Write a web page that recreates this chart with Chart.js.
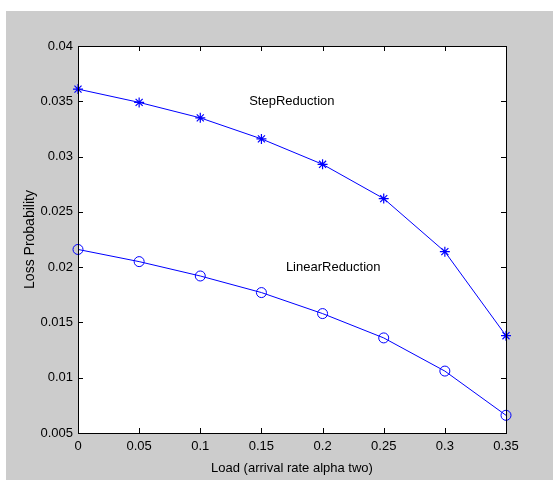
<!DOCTYPE html>
<html>
<head>
<meta charset="utf-8">
<script src="https://cdn.jsdelivr.net/npm/chart.js@4/dist/chart.umd.min.js"></script>
<style>
  html, body { margin: 0; padding: 0; background: #fff; }
  #wrap { width: 553px; height: 480px; }
</style>
</head>
<body>
<div id="wrap"><canvas id="myChart" width="553" height="480"></canvas></div>
<script>
// load values on the x axis
const loads = [0, 0.05, 0.1, 0.15, 0.2, 0.25, 0.3, 0.35];
// loss probability for each scheme
const stepReduction = [0.0361, 0.0349, 0.0335, 0.0316, 0.0293, 0.0262, 0.0214, 0.0138];
const linearReduction = [0.0216, 0.0205, 0.0192, 0.0177, 0.0158, 0.0136, 0.0106, 0.0066];
// tick values
const xTicks = [0, 0.05, 0.1, 0.15, 0.2, 0.25, 0.3, 0.35];
const yTicks = [0.005, 0.01, 0.015, 0.02, 0.025, 0.03, 0.035, 0.04];
// in-plot text labels: [x, y, text]
const notes = [
  [0.14, 0.035, "StepReduction"],
  [0.17, 0.02, "LinearReduction"],
];

const FONT = "'Liberation Sans', Arial, sans-serif";
const BLUE = "rgb(0,0,255)";

const toPoints = (ys) => loads.map((x, i) => ({ x: x, y: ys[i] }));
const fmt = (v) => String(Number(v.toFixed(4)));

// matlab-ish figure: grey frame, white axes box, ticks pointing inward
const figurePlugin = {
  id: "figure",
  beforeDraw(chart) {
    const { ctx, chartArea: a } = chart;
    ctx.save();
    ctx.fillStyle = "#fff";
    ctx.fillRect(0, 0, chart.width, chart.height);
    ctx.fillStyle = "#cccccc";
    ctx.fillRect(6, 11, chart.width - 6, chart.height - 11);
    ctx.fillStyle = "#fff";
    ctx.fillRect(a.left, a.top, a.right - a.left, a.bottom - a.top);
    ctx.restore();
  },
  afterDatasetsDraw(chart) {
    const { ctx, chartArea: a, scales } = chart;
    ctx.save();
    ctx.strokeStyle = "#000";
    ctx.lineWidth = 1;
    ctx.beginPath();
    xTicks.forEach((t) => {
      const px = Math.round(scales.x.getPixelForValue(t)) + 0.5;
      ctx.moveTo(px, a.bottom);
      ctx.lineTo(px, a.bottom - 5);
      ctx.moveTo(px, a.top);
      ctx.lineTo(px, a.top + 5);
    });
    yTicks.forEach((t) => {
      const py = Math.round(scales.y.getPixelForValue(t)) + 0.5;
      ctx.moveTo(a.left, py);
      ctx.lineTo(a.left + 5, py);
      ctx.moveTo(a.right, py);
      ctx.lineTo(a.right - 5, py);
    });
    ctx.stroke();
    ctx.strokeRect(a.left + 0.5, a.top + 0.5, a.right - a.left, a.bottom - a.top);

    ctx.fillStyle = "#000";
    ctx.font = "13px " + FONT;
    ctx.textAlign = "left";
    ctx.textBaseline = "middle";
    notes.forEach(([x, y, text]) => {
      ctx.fillText(text, scales.x.getPixelForValue(x), scales.y.getPixelForValue(y));
    });
    ctx.restore();
  },
};

const ctx = document.getElementById("myChart").getContext("2d");
const chart = new Chart(ctx, {
  type: "line",
  data: {
    datasets: [
      {
        label: "StepReduction",
        data: toPoints(stepReduction),
        borderColor: BLUE,
        borderWidth: 1,
        pointStyle: "star",
        pointRadius: 5,
        pointBorderColor: BLUE,
        pointBorderWidth: 1.2,
        pointBackgroundColor: BLUE,
        tension: 0,
        clip: false,
      },
      {
        label: "LinearReduction",
        data: toPoints(linearReduction),
        borderColor: BLUE,
        borderWidth: 1,
        pointStyle: "circle",
        pointRadius: 5,
        pointBorderColor: BLUE,
        pointBorderWidth: 1,
        pointBackgroundColor: "rgba(0,0,0,0)",
        tension: 0,
        clip: false,
      },
    ],
  },
  options: {
    responsive: false,
    animation: false,
    events: [],
    layout: { padding: { left: 0, top: 46, right: 47, bottom: 0 } },
    plugins: { legend: { display: false }, tooltip: { enabled: false } },
    scales: {
      x: {
        type: "linear",
        min: 0,
        max: 0.35,
        afterBuildTicks: (scale) => {
          scale.ticks = xTicks.map((v) => ({ value: v }));
        },
        afterFit: (scale) => {
          scale.height = 47;
        },
        grid: { display: false, drawTicks: false },
        border: { display: false },
        ticks: {
          color: "#000",
          font: { family: FONT, size: 13 },
          padding: 6,
          maxRotation: 0,
          autoSkip: false,
          callback: (v) => fmt(v),
        },
        title: {
          display: true,
          text: "Load (arrival rate alpha two)",
          color: "#000",
          font: { family: FONT, size: 13 },
          padding: { top: 0, bottom: 4 },
        },
      },
      y: {
        type: "linear",
        min: 0.005,
        max: 0.04,
        afterBuildTicks: (scale) => {
          scale.ticks = yTicks.map((v) => ({ value: v }));
        },
        afterFit: (scale) => {
          scale.width = 78;
        },
        grid: { display: false, drawTicks: false },
        border: { display: false },
        ticks: {
          color: "#000",
          font: { family: FONT, size: 13 },
          padding: 5,
          autoSkip: false,
          callback: (v) => fmt(v),
        },
        title: {
          display: true,
          text: "Loss Probability",
          color: "#000",
          font: { family: FONT, size: 14 },
          padding: { top: 22, bottom: 0 },
        },
      },
    },
  },
  plugins: [figurePlugin],
});
</script>
</body>
</html>
